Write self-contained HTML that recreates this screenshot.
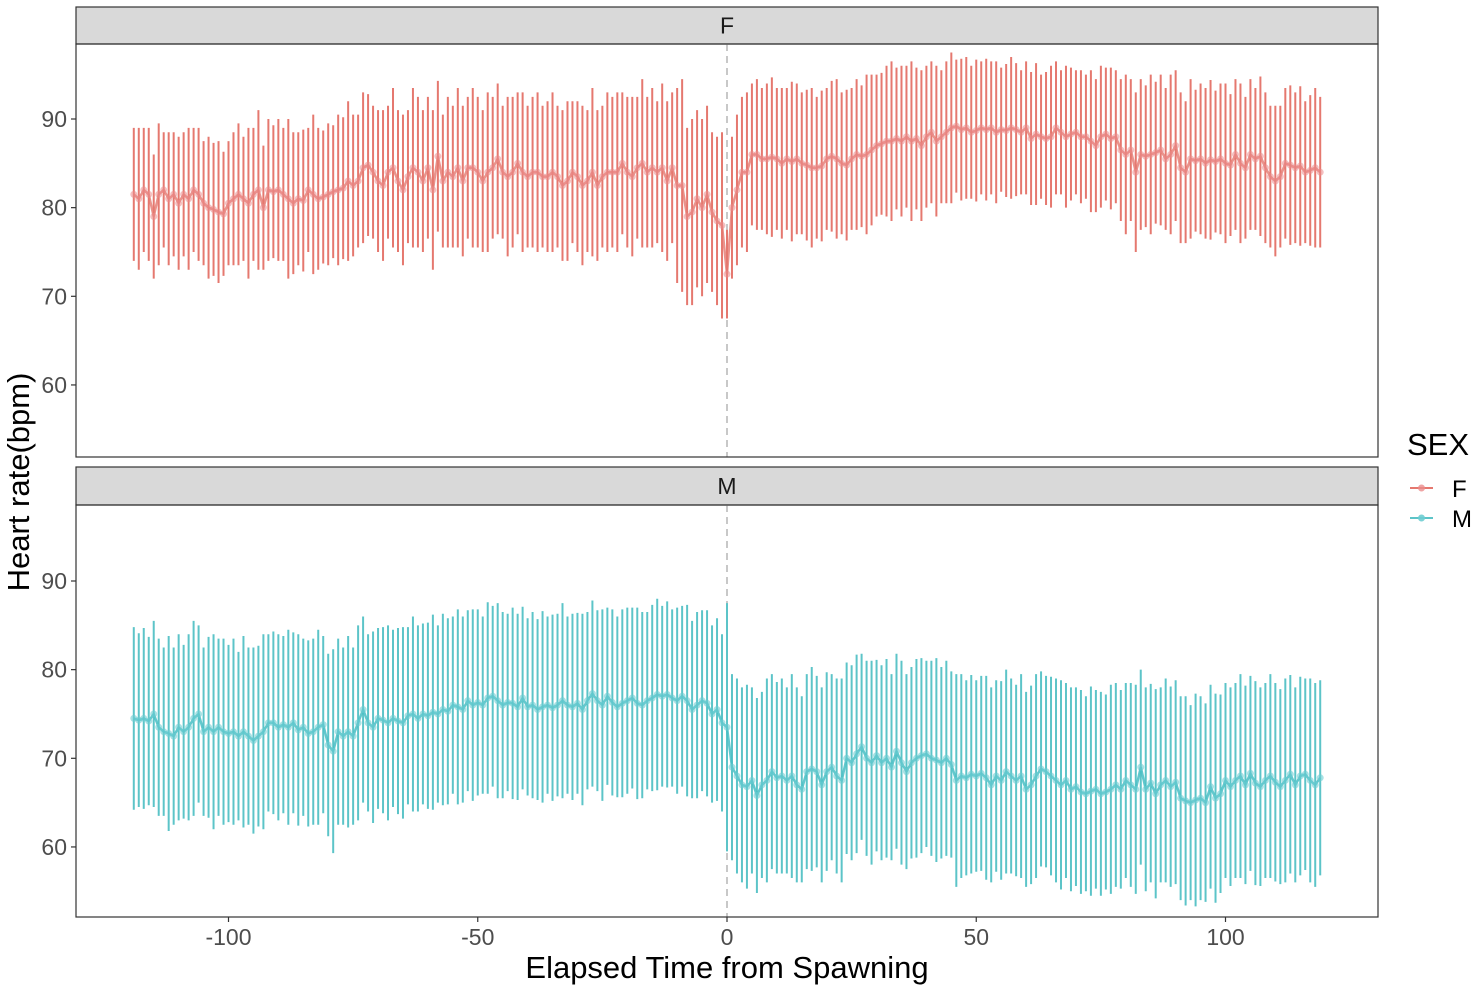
<!DOCTYPE html>
<html><head><meta charset="utf-8"><style>
html,body{margin:0;padding:0;background:#fff;}
svg{display:block;font-family:"Liberation Sans",sans-serif;}
</style></head><body>
<svg id="chart" width="1475" height="989" viewBox="0 0 1475 989"></svg>
<script>
const xValues = [];
for (let t = -119; t <= 119; t++) xValues.push(t);
const fMean = [81.5,81,82,81.5,79,81.5,82,81,81.5,
80.5,81.5,81,82,81.5,80.5,80,79.8,79.5,79.3,
80.5,81,81.5,81,80.5,81.5,82,80,82,81.8,
82,81.5,81,80.5,81,80.8,82,81.5,81,81.2,
81.5,81.8,82,82.2,83,82.5,83,84.5,84.8,84,
83,82.5,84,84.5,83,82,83.5,84.5,84,83,
84.5,82,85.8,83,84,83.5,84.5,83,84.5,84.5,
84,83,84,84.5,85.5,84,83.5,84,85,84,
83.5,84,84,83.5,83.5,84,83.5,82.5,83,84,
83.5,82.5,83,84,82.5,83.5,84,84,84,85,
84,83.5,84.5,85,84,84.5,84,84.5,83,84.5,
82.5,82.5,79,79.5,81,80,81.5,79.5,78.5,78,
72.5,
80,82,84,84,86,86,85.5,85.5,85.7,85.5,
85,85.5,85.2,85.5,85,84.8,84.5,84.5,84.7,85.5,
85.8,85.5,85,84.8,85.5,86,85.8,86,86.5,87,
87.2,87.5,87.5,87.8,87.5,88,87.5,87.8,87,88,
88.5,87.5,88,88.5,89,89.2,88.8,89,88.5,88.7,
89,88.8,89,88.5,88.8,88.7,89,88.8,88.5,89,
87.8,88.3,88,87.8,88,89,88.5,88,88.3,88.5,
88,88,87.5,87,88,88.3,87.8,88,86.5,86,
86.5,84,86,85.8,86,86.2,86.5,85.5,86,87,
84.5,84,85.5,85.3,85.5,85,85.4,85.2,85.5,85,
84.8,86,85,84.5,86,85.5,85.8,84.5,83.5,83,
83.5,85,84.8,84.5,84.7,84,84.2,84.5,84];
const fHalf = [7.5,8,7,7.5,7,8,6.5,7.5,7,
7.5,7,8,7,7.5,7,8,7.5,8,7,
7,7.5,8,7,8.5,7.5,9,7,8,7.5,
8,7.5,9,8,7.5,8,7,9,8,7.5,
8,7.5,8.5,8,9,8,7.5,8.5,8,7.5,
8,8.5,7.5,9,8,8.5,7.5,9,8.5,8,
8,9,8.5,7.5,8.5,8,9,8.5,8,9,
8.5,8,9,8,8.5,7.5,9,8.5,8,9,
8,8.5,9,8,8.5,9,8,8.5,9,8,
8.5,9,8,9.5,8.5,8,9,8.5,9,8,
8.5,9,8,9.5,8.5,9,8,9.5,9,8.5,
11,12,10,10.5,10,10,10,9,9.5,10.5,
5,
8,8.5,8.5,9,8,8.5,8,8.5,9,8,
8.5,8,9,8.5,8,8.5,9,8,8.5,8,
8.5,9,8,8.5,8,8.5,8,9,8.5,8,
8,8.5,9,8,8.5,8,9,8,8.5,8,
8,8.5,7.5,8,8.5,7.5,8,8,7.5,8,
7.5,8,7.5,8,7,7.5,8,7.5,7,7.5,
7.5,8,7,7.5,8,7.5,7,8,7.5,7,
7.5,7,8,7.5,8,7.5,8,7.5,8,9,
8,9,8.5,8,9,8,8.5,8,9,8.5,
8.5,8,9,8,8.5,8.5,9,8,8.5,9,
8,8.5,9,8,8.5,8,9,8.5,8,8.5,
8,8.5,9,8.5,9,8,8.5,9,8.5];
const mMean = [74.5,74.3,74.5,74.2,75,73.5,73,72.8,72.5,
73.5,73,73.5,74.5,75,73,73.5,73,73.5,73,
72.8,73,72.5,73,72.5,72,72.5,73,74,74,
73.5,73.8,73.5,74,73.2,73.5,72.8,73,73.5,73.8,
71.5,70.8,73,72.5,73,72.5,74,75.5,74,73.5,
74.5,74.3,74,74.5,74.2,74,74.8,75,74.5,75,
74.8,75.2,75,75.5,75.3,76,75.8,75.5,76.5,76,
76.3,76,76.8,77,76.5,76,76.3,76.2,75.8,76.8,
75.8,76,75.5,75.8,76,75.7,76,76.5,76,75.8,
76.2,75.5,76.5,77.3,76.5,76,77,76.3,75.8,76.2,
76.5,76.8,76.2,76,76.5,76.8,77.2,77,77.2,76.8,
76.5,77,76.5,75.5,76,76.5,76.2,75,75.5,74,
73.5,
69,68,67,66.8,67.5,65.8,67,67.5,68.5,67.8,
68,67.5,68,67,66.5,68.5,68.8,68.5,67,68.5,
69,68,67.5,70,69.5,70.5,71.3,70,69.5,70.3,
69.5,70,69,70.8,69.5,68.5,69.5,70,70.3,70.5,
70,69.8,69.5,70,69.3,67.5,68,67.8,68.2,68,
68.3,67.8,67,68,67.5,68.5,68,67.5,68,66.5,
67,68,68.8,68.5,68,67.5,67,67.5,66.5,66.8,
66.2,66,66.3,66.5,66,66.2,66.5,67,66.5,67.5,
67,66.5,69,66.5,67.2,66,67,67.5,66.8,67.3,
65.5,65.2,65,65.3,65.5,65,66.8,65.5,66,67.5,
66.8,67.5,68,67,68.3,67.2,66.8,67.5,68,67.3,
66.8,67.5,68.2,67,68,68.2,67.5,67,67.8];
const mHalf = [10.3,9.8,10.2,9.5,10.5,10,9.5,11,10,
10.5,9.8,10.5,11,10,9.5,10.2,11,10,10.5,
10,10.5,9.5,10.8,10,10.5,10.2,11,10,10.3,
10.5,10,11,10.2,10.8,10,10.5,10.5,11,10,
10.3,11.5,10.5,10,10.8,10,11,10.5,10,10.8,
10.2,10.5,11,10,10.5,10.8,10,11,10.5,10.2,
10.5,11,10,10.8,10.5,10,11,10.5,10.2,10.8,
10.5,10,10.8,10.2,11,10.5,10,10.8,10.5,10.3,
10,10.5,10.2,10.8,10,10.5,10.3,11,10,10.5,
10.2,10.8,10,10.5,10.2,10.8,10,10.5,10.2,10.6,
10.5,10.2,10.8,10.5,10,10.5,10.8,10.2,10.5,10,
10.5,10.2,10.8,10,10.5,10.2,10.5,10,10.3,10,
14,
10.5,11,11,11.5,10.5,11,10.5,11.5,11,10.8,
11,10.5,11.5,11,10.5,11,11.5,10.8,11,11.2,
10.5,11,11.5,10.8,11,11.2,10.5,11,11.5,10.8,
11,11.2,10.5,11,11.5,11,10.8,11.2,11,10.5,
11,11.5,10.8,11,10.5,12,11.5,11,11.2,10.8,
11,11.5,11,10.8,11.2,11.5,11,10.8,11.5,11,
11.2,11.5,11,10.8,11.2,11.5,11.8,11,11.5,11.2,
11.5,11,11.8,11.2,11.5,11,11.8,11.5,11.2,11,
11.5,11.8,11,11.5,11.2,11.8,11,11.5,11.3,11.5,
11.5,11.8,11,12,11.5,11.2,11.5,11.8,11.2,11,
11.2,11,11.5,11.2,11,11.5,11.2,11,11.5,11.2,
11,11.5,11.2,11,11.2,10.8,11.5,11.5,11];
const xTicks = [-100, -50, 0, 50, 100];
const yTicks = [60, 70, 80, 90];

const NS = "http://www.w3.org/2000/svg";
const svg = document.getElementById("chart");
function mk(tag, attrs, parent) {
  const e = document.createElementNS(NS, tag);
  for (const k in attrs) e.setAttribute(k, attrs[k]);
  (parent || svg).appendChild(e);
  return e;
}
const X0 = 76, X1 = 1378;
function xScale(v) { return 727 + v * 4.985; }
const panels = [
  {label: "F", stripTop: 7, top: 44, bottom: 457, y90: 119, mean: fMean, half: fHalf, bar: "#E5786F", pt: "rgba(235,140,140,0.55)", line: "rgba(229,120,111,0.8)"},
  {label: "M", stripTop: 467, top: 505, bottom: 917, y90: 581, mean: mMean, half: mHalf, bar: "#5CC4C8", pt: "rgba(110,205,210,0.6)", line: "rgba(70,190,196,0.85)"}
];
panels.forEach(p => {
  const ys = v => p.y90 + (90 - v) * 8.865;
  const g = mk("g", {});
  
  
  const strip = mk("rect", {x: X0, y: p.stripTop, width: X1 - X0, height: p.top - p.stripTop, fill: "#d9d9d9", stroke: "#333", "stroke-width": 1.2}, g);
  
  
  const st = mk("text", {x: (X0 + X1) / 2, y: (p.stripTop + p.top) / 2 + 8, "text-anchor": "middle", "font-size": 23, fill: "#1a1a1a"}, g);
  st.textContent = p.label;
  
  
  yTicks.forEach(t => {
    const tk = mk("line", {x1: X0 - 5, x2: X0, y1: ys(t), y2: ys(t), stroke: "#333", "stroke-width": 1.2}, g);
    
    
    const tl = mk("text", {x: X0 - 9, y: ys(t) + 8, "text-anchor": "end", "font-size": 23, fill: "#4d4d4d"}, g);
    tl.textContent = t;
    
    
  });
  const dl = mk("line", {x1: xScale(0), x2: xScale(0), y1: p.top, y2: p.bottom, stroke: "#c8c8c8", "stroke-width": 2, "stroke-dasharray": "7,5"}, g);
  
  
  xValues.forEach((xv, i) => {
    const b = mk("line", {x1: xScale(xv), x2: xScale(xv), y1: ys(p.mean[i] + p.half[i]), y2: ys(p.mean[i] - p.half[i]), stroke: p.bar, "stroke-width": 2}, g);
    
    
  });
  const pts = xValues.map((xv, i) => xScale(xv).toFixed(1) + "," + ys(p.mean[i]).toFixed(1)).join(" ");
  const pl = mk("polyline", {points: pts, fill: "none", stroke: p.line, "stroke-width": 2.5}, g);
  
  
  xValues.forEach((xv, i) => {
    const c = mk("circle", {cx: xScale(xv), cy: ys(p.mean[i]), r: 3.5, fill: p.pt}, g);
    
    
  });
  const fr = mk("rect", {x: X0, y: p.top, width: X1 - X0, height: p.bottom - p.top, fill: "none", stroke: "#333", "stroke-width": 1.2}, g);
  
  
});
xTicks.forEach(t => {
  const tk = mk("line", {x1: xScale(t), x2: xScale(t), y1: 917, y2: 922, stroke: "#333", "stroke-width": 1.2});
  
  
  const tl = mk("text", {x: xScale(t), y: 945, "text-anchor": "middle", "font-size": 23, fill: "#4d4d4d"});
  tl.textContent = t;
  
  
});
const xt = mk("text", {x: 727, y: 978, "text-anchor": "middle", "font-size": 31, fill: "#000"});
xt.textContent = "Elapsed Time from Spawning";


const yt = mk("text", {x: 0, y: 0, "text-anchor": "middle", "font-size": 31, fill: "#000", transform: "translate(29,482) rotate(-90)"});
yt.textContent = "Heart rate(bpm)";


const lt = mk("text", {x: 1407, y: 455, "font-size": 31, fill: "#000"});
lt.textContent = "SEX";


[["F", "#E5786F", "rgba(235,140,140,0.8)", 488], ["M", "#5CC4C8", "rgba(110,205,210,0.9)", 518]].forEach(l => {
  const g = mk("g", {});
  
  
  mk("line", {x1: 1410, x2: 1433, y1: l[3], y2: l[3], stroke: l[1], "stroke-width": 2}, g);
  mk("circle", {cx: 1421.5, cy: l[3], r: 3.5, fill: l[2]}, g);
  const tx = mk("text", {x: 1452, y: l[3] + 9, "font-size": 24, fill: "#000"}, g);
  tx.textContent = l[0];
});
</script>
</body></html>
